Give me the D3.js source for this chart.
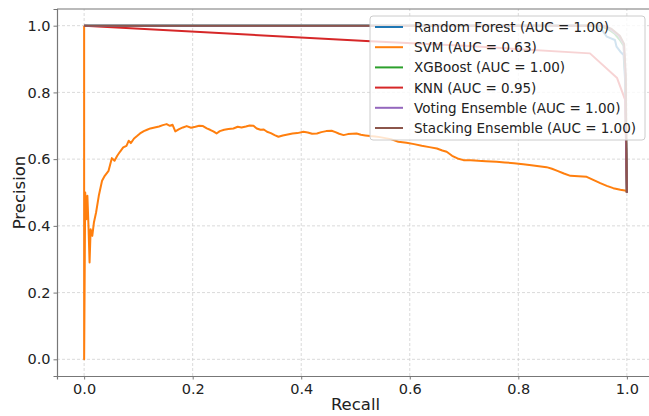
<!DOCTYPE html>
<html>
<head>
<meta charset="utf-8">
<script src="https://cdn.jsdelivr.net/npm/d3@7"></script>
<style>
  body { margin: 0; background: #fff; }
  svg { font-family: "DejaVu Sans", sans-serif; }
</style>
</head>
<body>
<div id="chart"></div>
<script>
// legend labels and colours
const models = ["Random Forest", "SVM", "XGBoost", "KNN", "Voting Ensemble", "Stacking Ensemble"]
const aucs = [1.00, 0.63, 1.00, 0.95, 1.00, 1.00]
const colors = ["#1f77b4", "#ff7f0e", "#2ca02c", "#d62728", "#9467bd", "#8c564b"]

const xTicks = [0, 0.2, 0.4, 0.6, 0.8, 1.0]
const yTicks = [0, 0.2, 0.4, 0.6, 0.8, 1.0]

// [recall, precision]
const rfCurve = [[0,1],[0.94,1],[0.955,0.985],[0.963,0.967],[0.978,0.957],[0.981,0.937],[0.988,0.922],[0.994,0.912],[0.997,0.83],[0.998,0.7],[1,0.5]]
const svmCurve = [[0,1],[0,0],[0.002,0.5],[0.004,0.42],[0.006,0.49],[0.008,0.40],[0.010,0.29],[0.012,0.39],[0.015,0.37],[0.018,0.41],[0.022,0.44],[0.027,0.49],[0.033,0.535],[0.038,0.55],[0.045,0.565],[0.051,0.603],[0.056,0.595],[0.061,0.61],[0.066,0.622],[0.072,0.635],[0.078,0.64],[0.082,0.655],[0.086,0.648],[0.092,0.662],[0.098,0.67],[0.103,0.677],[0.11,0.684],[0.116,0.688],[0.122,0.692],[0.13,0.695],[0.138,0.698],[0.145,0.702],[0.152,0.705],[0.158,0.70],[0.163,0.703],[0.168,0.683],[0.175,0.69],[0.182,0.695],[0.189,0.699],[0.197,0.694],[0.205,0.697],[0.212,0.700],[0.219,0.699],[0.226,0.692],[0.232,0.688],[0.238,0.683],[0.244,0.677],[0.25,0.684],[0.258,0.688],[0.266,0.69],[0.275,0.692],[0.283,0.697],[0.29,0.695],[0.298,0.698],[0.305,0.701],[0.312,0.70],[0.318,0.692],[0.325,0.688],[0.331,0.689],[0.337,0.682],[0.344,0.678],[0.351,0.672],[0.358,0.667],[0.366,0.671],[0.375,0.674],[0.384,0.677],[0.393,0.678],[0.404,0.682],[0.412,0.68],[0.42,0.676],[0.429,0.677],[0.437,0.681],[0.446,0.684],[0.456,0.685],[0.463,0.681],[0.47,0.676],[0.478,0.672],[0.486,0.675],[0.494,0.676],[0.502,0.677],[0.51,0.673],[0.518,0.671],[0.527,0.669],[0.536,0.668],[0.545,0.666],[0.555,0.663],[0.565,0.66],[0.579,0.652],[0.594,0.649],[0.608,0.645],[0.622,0.64],[0.636,0.636],[0.65,0.632],[0.66,0.626],[0.668,0.622],[0.678,0.61],[0.688,0.602],[0.699,0.597],[0.712,0.597],[0.726,0.595],[0.74,0.594],[0.76,0.592],[0.775,0.59],[0.792,0.588],[0.809,0.585],[0.824,0.582],[0.838,0.579],[0.852,0.576],[0.862,0.571],[0.872,0.565],[0.884,0.557],[0.896,0.55],[0.911,0.549],[0.926,0.547],[0.938,0.538],[0.951,0.528],[0.963,0.52],[0.975,0.513],[0.988,0.508],[0.999,0.505],[1,0.5]]
const xgbCurve = [[0,1],[0.95,1],[0.965,0.99],[0.978,0.975],[0.988,0.955],[0.994,0.94],[0.997,0.85],[1,0.5]]
const knnCurve = [[0,1],[0.528,0.953],[0.7,0.94],[0.932,0.917],[0.982,0.843],[0.997,0.777],[1,0.5]]
const votingCurve = [[0,1],[0.955,1],[0.969,0.99],[0.985,0.97],[0.994,0.945],[0.997,0.86],[1,0.5]]
const stackingCurve = [[0,1],[0.958,1],[0.972,0.99],[0.987,0.97],[0.995,0.945],[0.998,0.85],[1,0.5]]

const curves = [rfCurve, svmCurve, xgbCurve, knnCurve, votingCurve, stackingCurve]

const width = 649, height = 416
const margin = {left: 57, top: 9, right: -5, bottom: 40}

const svg = d3.select("#chart").append("svg")
    .attr("width", width)
    .attr("height", height)

const x = d3.scaleLinear().domain([-0.05, 1.05]).range([margin.left, width - margin.right])
const y = d3.scaleLinear().domain([-0.05, 1.05]).range([height - margin.bottom, margin.top])

// grid
svg.append("g").selectAll("line")
    .data(xTicks).enter().append("line")
    .attr("x1", d => x(d)).attr("x2", d => x(d))
    .attr("y1", y(-0.05)).attr("y2", y(1.05))
    .attr("stroke", "#d0d0d0").attr("stroke-width", 0.8).attr("stroke-dasharray", "3,2")
svg.append("g").selectAll("line")
    .data(yTicks).enter().append("line")
    .attr("y1", d => y(d)).attr("y2", d => y(d))
    .attr("x1", x(-0.05)).attr("x2", x(1.05))
    .attr("stroke", "#d0d0d0").attr("stroke-width", 0.8).attr("stroke-dasharray", "3,2")

// axes
const xAxis = svg.append("g")
    .attr("transform", `translate(0,${y(-0.05)})`)
    .call(d3.axisBottom(x).tickValues(xTicks).tickFormat(d3.format(".1f")).tickSize(3.5).tickPadding(4))
const yAxis = svg.append("g")
    .attr("transform", `translate(${x(-0.05)},0)`)
    .call(d3.axisLeft(y).tickValues(yTicks).tickFormat(d3.format(".1f")).tickSize(3.5).tickPadding(3))

svg.selectAll(".domain").attr("stroke", "#777").attr("stroke-width", 1.2)
svg.selectAll(".tick line").attr("stroke", "#777")
svg.selectAll(".tick text")
    .attr("font-family", "DejaVu Sans").attr("font-size", "14.5px").attr("fill", "#222")

// top spine
svg.append("line")
    .attr("x1", x(-0.05)).attr("x2", width)
    .attr("y1", y(1.05)).attr("y2", y(1.05))
    .attr("stroke", "#777").attr("stroke-width", 1.2)

svg.append("text")
    .attr("x", (x(-0.05) + x(1.05)) / 2).attr("y", 410)
    .attr("text-anchor", "middle").attr("font-size", "16.5px").attr("fill", "#222")
    .text("Recall")
svg.append("text")
    .attr("transform", `translate(25,${(y(-0.05) + y(1.05)) / 2}) rotate(-90)`)
    .attr("text-anchor", "middle").attr("font-size", "16.5px").attr("fill", "#222")
    .text("Precision")

// curves
const line = d3.line().x(d => x(d[0])).y(d => y(d[1]))
svg.append("g").selectAll("path")
    .data(curves).enter().append("path")
    .attr("d", line)
    .attr("fill", "none")
    .attr("stroke", (d, i) => colors[i])
    .attr("stroke-width", 2)
    .attr("stroke-linejoin", "round")

// legend
const legend = svg.append("g")
legend.append("rect")
    .attr("x", 370).attr("y", 16).attr("width", 275).attr("height", 124)
    .attr("rx", 3)
    .attr("fill", "#fff").attr("fill-opacity", 0.8)
    .attr("stroke", "#ccc").attr("stroke-width", 1)

const items = legend.selectAll("g.item")
    .data(models).enter().append("g")
    .attr("transform", (d, i) => `translate(0,${27 + i * 20.2})`)
items.append("line")
    .attr("x1", 375).attr("x2", 403)
    .attr("stroke", (d, i) => colors[i]).attr("stroke-width", 2)
items.append("text")
    .attr("x", 414).attr("y", 5)
    .attr("font-size", "13.5px").attr("fill", "#222")
    .text((d, i) => `${d} (AUC = ${aucs[i].toFixed(2)})`)
</script>
</body>
</html>
